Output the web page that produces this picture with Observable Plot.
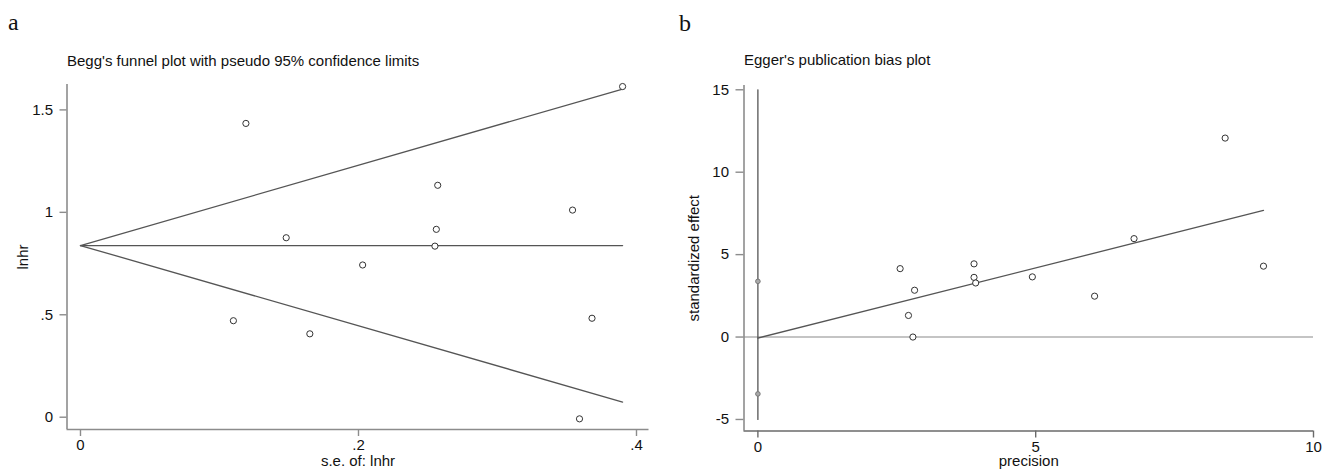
<!DOCTYPE html>
<html><head><meta charset="utf-8">
<script src="https://cdn.jsdelivr.net/npm/d3@7"></script>
<script src="https://cdn.jsdelivr.net/npm/@observablehq/plot@0.6"></script>
<style>
body{margin:0;background:#fff;font-family:"Liberation Sans",Arial,sans-serif;}
#wrap{position:relative;width:1323px;height:469px;overflow:hidden;background:#fff;}
.panel{position:absolute;top:75px;}
.tag{position:absolute;font-family:"Liberation Serif","Times New Roman",serif;font-size:24px;color:#111;line-height:1;}
.title{position:absolute;font-size:15px;color:#111;line-height:1;white-space:nowrap;}
</style></head><body>
<div id="wrap">
  <div class="tag" style="left:8px;top:10px;">a</div>
  <div class="tag" style="left:679px;top:11px;">b</div>
  <div class="title" style="left:67px;top:53px;">Begg's funnel plot with pseudo 95% confidence limits</div>
  <div class="title" style="left:744px;top:52px;">Egger's publication bias plot</div>
  <div class="panel" id="pa" style="left:0px;"></div>
  <div class="panel" id="pb" style="left:660px;"></div>
</div>
<script>
// ---- Panel a: Begg's funnel plot ----
const aSE    = [0.390, 0.119, 0.257, 0.354, 0.256, 0.148, 0.255, 0.203, 0.110, 0.165, 0.368, 0.359];
const aLnhr  = [1.614, 1.434, 1.132, 1.011, 0.917, 0.876, 0.835, 0.743, 0.471, 0.407, 0.483, -0.008];
const aFunnelSE = [0, 0.39];
const aCenter   = [0.838, 0.838];
const aUpper    = [0.838, 1.602];
const aLower    = [0.838, 0.074];
const aXTicks = [0, 0.2, 0.4];
const aXTickLabels = ["0", ".2", ".4"];
const aYTicks = [0, 0.5, 1, 1.5];
const aYTickLabels = ["0", ".5", "1", "1.5"];

// ---- Panel b: Egger's publication bias plot ----
const bPrecision = [8.41, 6.77, 9.10, 2.56, 3.89, 3.89, 3.92, 4.94, 2.82, 6.06, 2.71, 2.79];
const bStdEffect = [12.07, 5.97, 4.30, 4.15, 4.44, 3.62, 3.28, 3.65, 2.84, 2.48, 1.31, 0.00];
const bFitX = [0, 9.10];
const bFitY = [-0.06, 7.68];
const bCIX = [0, 0];
const bCIY = [3.38, -3.45];
const bVertY = [-5, 15];
const bXTicks = [0, 5, 10];
const bXTickLabels = ["0", "5", "10"];
const bYTicks = [-5, 0, 5, 10, 15];
const bYTickLabels = ["-5", "0", "5", "10", "15"];

const font = {fontFamily: "'Liberation Sans', Arial, sans-serif", fontSize: "15px", color: "#111", background: "white", overflow: "visible"};
const axisCol = "#8c8c8c";
const lineCol = "#555";

const aXDom = [-0.0097, 0.409], aYDom = [-0.06, 1.624];
const plotA = Plot.plot({
  width: 660, height: 394,
  marginLeft: 66.5, marginRight: 11.5, marginTop: 9, marginBottom: 40,
  style: font,
  x: {domain: aXDom},
  y: {domain: aYDom},
  marks: [
    Plot.ruleX([aXDom[0]], {stroke: axisCol, strokeWidth: 1.6}),
    Plot.ruleY([aYDom[0]], {stroke: axisCol, strokeWidth: 1.6}),
    Plot.axisX({ticks: aXTicks, tickFormat: d => aXTickLabels[aXTicks.indexOf(d)], tickSize: 7, tickPadding: 3, stroke: axisCol, strokeWidth: 1.4, fill: "#111",
      label: "s.e. of: lnhr", labelAnchor: "center", labelOffset: 36.5, labelArrow: "none"}),
    Plot.axisY({ticks: aYTicks, tickFormat: d => aYTickLabels[aYTicks.indexOf(d)], tickSize: 7, tickPadding: 7, stroke: axisCol, strokeWidth: 1.4, fill: "#111",
      label: "lnhr", labelAnchor: "center", labelOffset: 50, labelArrow: "none"}),
    Plot.line(aUpper, {x: aFunnelSE, y: aUpper, stroke: lineCol, strokeWidth: 1.3}),
    Plot.line(aLower, {x: aFunnelSE, y: aLower, stroke: lineCol, strokeWidth: 1.3}),
    Plot.line(aCenter, {x: aFunnelSE, y: aCenter, stroke: lineCol, strokeWidth: 1.3}),
    Plot.dot(aSE, {x: aSE, y: aLnhr, r: 3.1, stroke: "#333", strokeWidth: 1, fill: "white"})
  ]
});
document.getElementById("pa").appendChild(plotA);

const bXDom = [-0.25, 10.0], bYDom = [-5.70, 15.26];
const plotB = Plot.plot({
  width: 663, height: 394,
  marginLeft: 83.5, marginRight: 10, marginTop: 10, marginBottom: 38.5,
  style: font,
  x: {domain: bXDom},
  y: {domain: bYDom},
  marks: [
    Plot.ruleY([0], {stroke: "#b0b0b0", strokeWidth: 1.5}),
    Plot.ruleX([bXDom[0]], {stroke: axisCol, strokeWidth: 1.6}),
    Plot.ruleY([bYDom[0]], {stroke: "#6a6a6a", strokeWidth: 1.6}),
    Plot.axisX({ticks: bXTicks, tickFormat: d => bXTickLabels[bXTicks.indexOf(d)], tickSize: 7, tickPadding: 3, stroke: "#6a6a6a", strokeWidth: 1.4, fill: "#111",
      label: "precision", labelAnchor: "center", labelOffset: 35, labelArrow: "none"}),
    Plot.axisY({ticks: bYTicks, tickFormat: d => bYTickLabels[bYTicks.indexOf(d)], tickSize: 8, tickPadding: 7, stroke: axisCol, strokeWidth: 1.4, fill: "#111",
      label: "standardized effect", labelAnchor: "center", labelOffset: 56, labelArrow: "none"}),
    Plot.line(bVertY, {x: bCIX, y: bVertY, stroke: "#555", strokeWidth: 1.3}),
    Plot.line(bFitY, {x: bFitX, y: bFitY, stroke: lineCol, strokeWidth: 1.3}),
    Plot.dot(bCIY, {x: bCIX, y: bCIY, r: 2.3, stroke: "#777", strokeWidth: 1, fill: "#aaa"}),
    Plot.dot(bPrecision, {x: bPrecision, y: bStdEffect, r: 3.1, stroke: "#333", strokeWidth: 1, fill: "white"})
  ]
});
document.getElementById("pb").appendChild(plotB);
</script>
</body></html>
